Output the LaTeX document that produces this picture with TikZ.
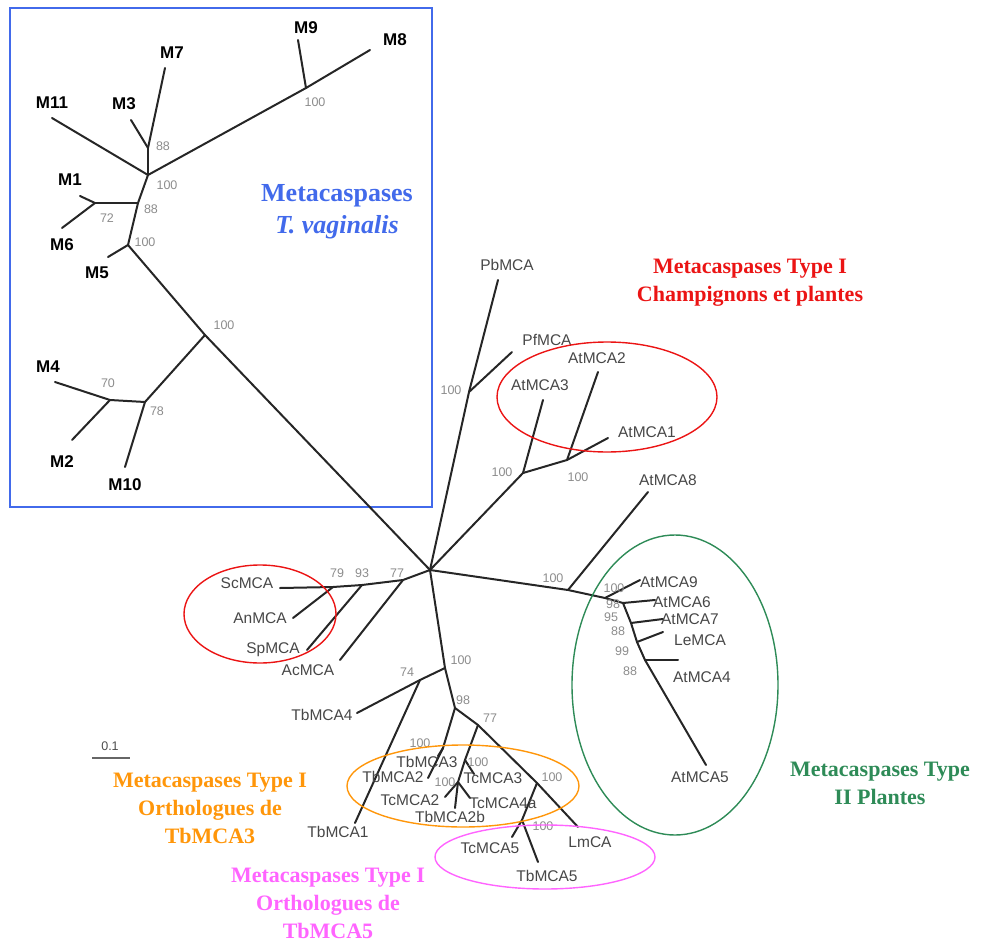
\documentclass[tikz,border=0pt]{standalone}
\usepackage{fontspec}
\setmainfont{Liberation Serif}
\setsansfont{Liberation Sans}
\usetikzlibrary{positioning}
\definecolor{tvblue}{RGB}{66,106,235}
\definecolor{mcred}{RGB}{235,20,20}
\definecolor{mcgreen}{RGB}{46,139,87}
\definecolor{mcorange}{RGB}{255,150,10}
\definecolor{mcpink}{RGB}{255,100,255}
\tikzset{
	branch/.style={line width=2pt, black!85, line cap=round},
	tvleaf/.style={font=\sffamily\bfseries\fontsize{17}{17}\selectfont, inner sep=1pt},
	taxon/.style={font=\sffamily\fontsize{15.5}{15.5}\selectfont, text=black!72, inner sep=1pt},
	boot/.style={font=\sffamily\fontsize{12.5}{12.5}\selectfont, text=black!45, inner sep=1pt},
	% group titles
	grouptitle/.style={font=\bfseries\fontsize{22}{28}\selectfont, align=center},
	groupring/.style={line width=1.4pt}
}

\begin{document}
\begin{tikzpicture}[x=1pt, y=-1pt]
	\useasboundingbox (0,0) rectangle (983,942);
	
	% T. vaginalis box
	\draw[tvblue, line width=1.5pt] (10,8) rectangle (432,507);
	\node[grouptitle, text=tvblue, font=\bfseries\fontsize{26}{32}\selectfont] (tvtitle) at (337,212)
		{Metacaspases\\\textit{T. vaginalis}};
	
	% inner nodes and branch ends
	\foreach \n/\x/\y in {root/430/570,
		tA/205/335, tB/128/245, tC/138/203, tD/148/175, tE/148/148, tF/306/88,
		tG/95/203, tH/145/402, tI/110/400,
		eM8/370/50, eM9/298/40, eM7/165/68, eM3/131/120, eM11/52/118, eM1/80/196,
		eM6/62/228, eM5/108/257, eM4/55/382, eM2/72/440, eM10/125/467,
		cP/469/392, ePb/498/280, ePf/512/352,
		cQ/523/473, eAt3/543/400, cR/567/460, eAt2/598/372, eAt1/608/438,
		cS/568/590, eAt8/648/492, cT/605/598, eAt9/640/580, c1/623/603, eAt6/655/600,
		c2/631/623, eAt7/663/619, c3/637/642, eLe/663/632, c4/645/660,
		eAt4/678/660, eAt5/706/765,
		cL1/403/580, cL2/362/585, cL3/333/587, eSc/280/588, eAn/293/618,
		eSp/307/650, eAc/340/660,
		cB1/445/668, cB2/420/680, eTb4/357/713, eTb1/355/823,
		cB3/455/708, cB4/443/748, eTb3/438/756, eTb2/428/778,
		cB5/478/725, cB6/465/760, eTc3/474/774, cB7/458/782, eTc2/445/797,
		eTc4/470/798, eTbb/455/808,
		cB8/537/783, eLm/578/827, cB9/522/820, eTc5/512/837, eTb5/538/862}
		\coordinate (\n) at (\x,\y);
	
	% branches
	\foreach \a/\b in {root/tA, tA/tB, tB/tC, tC/tD, tD/tE, tE/eM7, tE/eM3, tD/eM11,
		tD/tF, tF/eM9, tF/eM8, tC/tG, tG/eM1, tG/eM6, tB/eM5, tA/tH, tH/eM10,
		tH/tI, tI/eM4, tI/eM2,
		root/cP, cP/ePb, cP/ePf, root/cQ, cQ/eAt3, cQ/cR, cR/eAt2, cR/eAt1,
		root/cS, cS/eAt8, cS/cT, cT/eAt9, cT/c1, c1/eAt6, c1/c2, c2/eAt7, c2/c3,
		c3/eLe, c3/c4, c4/eAt4, c4/eAt5,
		root/cL1, cL1/cL2, cL2/cL3, cL3/eSc, cL3/eAn, cL2/eSp, cL1/eAc,
		root/cB1, cB1/cB2, cB2/eTb4, cB2/eTb1, cB1/cB3, cB3/cB4, cB4/eTb3,
		cB4/eTb2, cB3/cB5, cB5/cB6, cB6/eTc3, cB6/cB7, cB7/eTc2, cB7/eTc4,
		cB7/eTbb, cB5/cB8, cB8/eLm, cB8/cB9, cB9/eTc5, cB9/eTb5}
		\draw[branch] (\a) -- (\b);
	
	% T. vaginalis leaves
	\foreach \n/\x/\y in {M8/395/40, M9/306/28, M7/172/53, M3/124/104, M11/52/103,
		M1/70/180, M6/62/245, M5/97/273, M4/48/367, M2/62/462, M10/125/485}
		\node[tvleaf] (lab\n) at (\x,\y) {\n};
	
	% other taxa
	\foreach \n/\x/\y in {PbMCA/507/265, PfMCA/547/340, AtMCA2/597/358, AtMCA3/540/385,
		AtMCA1/647/432, AtMCA8/668/480, AtMCA9/669/582, AtMCA6/682/602,
		AtMCA7/690/619, LeMCA/700/640, AtMCA4/702/677, AtMCA5/700/777,
		ScMCA/247/583, AnMCA/260/618, SpMCA/273/650, AcMCA/308/670,
		TbMCA4/322/715, TbMCA1/338/832, TbMCA3/427/762, TbMCA2/393/777,
		TcMCA3/493/778, TcMCA2/410/800, TcMCA4a/503/803, TbMCA2b/450/817,
		LmCA/590/842, TcMCA5/490/848, TbMCA5/547/876}
		\node[taxon] (lab\n) at (\x,\y) {\n};
	
	% bootstrap values
	\foreach \x/\y/\v [count=\i] in {315/102/100, 163/146/88, 167/185/100, 151/209/88,
		107/218/72, 145/242/100, 224/325/100, 157/411/78, 108/383/70,
		451/390/100, 502/472/100, 578/477/100, 553/578/100, 614/588/100,
		613/604/98, 611/617/95, 618/631/88, 622/651/99, 630/671/88,
		337/573/79, 362/573/93, 397/573/77,
		461/660/100, 407/672/74, 463/700/98, 490/718/77, 420/743/100,
		478/762/100, 445/782/100, 552/777/100, 543/826/100}
		\node[boot] (bs\i) at (\x,\y) {\v};
	
	% scale bar
	\node[boot, text=black!70] (scale) at (110,746) {0.1};
	\draw[line width=2pt, black!60] (scale.south west) ++(-8,6) coordinate (sb1) -- ++(38,0) coordinate (sb2);
	
	% groups
	\draw[groupring, mcred] (607,397) ellipse (110 and 55);
	\draw[groupring, mcred] (260,614) ellipse (76 and 49);
	\draw[groupring, mcgreen] (675,685) ellipse (103 and 150);
	\draw[groupring, mcorange] (463,786) ellipse (116 and 41);
	\draw[groupring, mcpink] (545,857) ellipse (110 and 32);
	
	\node[grouptitle, text=mcred] (redtitle) at (750,283) {Metacaspases Type I\\Champignons et plantes};
	\node[grouptitle, text=mcgreen] (greentitle) at (880,783) {Metacaspases Type\\II Plantes};
	\node[grouptitle, text=mcorange] (orangetitle) at (210,808) {Metacaspases Type I\\Orthologues de\\TbMCA3};
	\node[grouptitle, text=mcpink] (pinktitle) at (328,903) {Metacaspases Type I\\Orthologues de\\TbMCA5};
\end{tikzpicture}
\end{document}
